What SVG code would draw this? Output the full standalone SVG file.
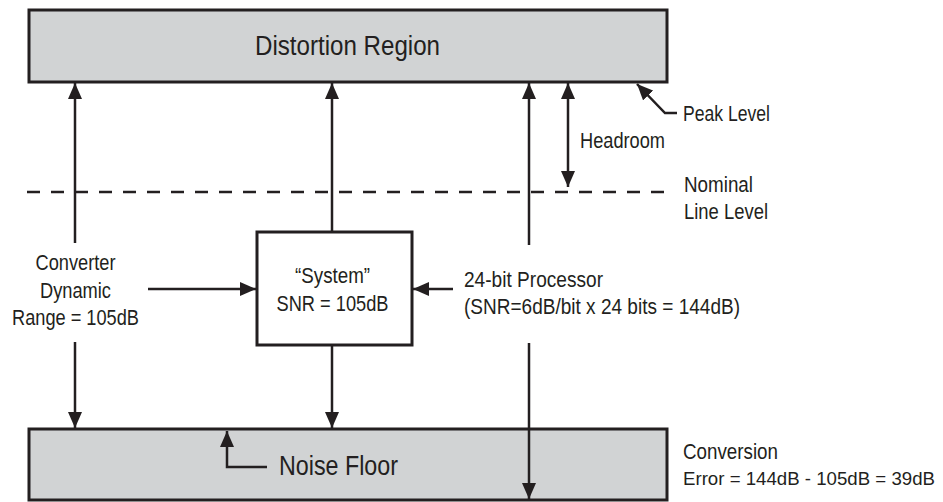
<svg xmlns="http://www.w3.org/2000/svg" width="943" height="502" viewBox="0 0 943 502">
<style>
.region{fill:#d1d3d4;stroke:#231f20;stroke-width:3}
.box{fill:#ffffff;stroke:#231f20;stroke-width:3}
.ln{fill:none;stroke:#231f20;stroke-width:2.5}
.dash{fill:none;stroke:#231f20;stroke-width:2.5;stroke-dasharray:13 11}
.t{font-family:"Liberation Sans",Arial,sans-serif;fill:#231f20}
.big{font-size:27px}
.lbl{font-size:22px}
.sm{font-size:19px}
</style>
<defs>
<marker id="ah" markerWidth="16" markerHeight="14" refX="16" refY="7" orient="auto" markerUnits="userSpaceOnUse" viewBox="0 0 16 14">
<path d="M0,0 L16,7 L0,14 Z" fill="#231f20"/>
</marker>
</defs>
<rect width="943" height="502" fill="#ffffff"/>
<g id="distortion-region">
<rect class="region" x="29" y="10" width="638" height="72"/>
<text class="t big" x="347.5" y="55" text-anchor="middle" textLength="185" lengthAdjust="spacingAndGlyphs">Distortion Region</text>
</g>
<g id="noise-floor">
<rect class="region" x="29" y="429" width="638" height="71"/>
<text class="t big" x="279" y="475" textLength="119" lengthAdjust="spacingAndGlyphs">Noise Floor</text>
</g>
<g id="system">
<rect class="box" x="257" y="232" width="155" height="113"/>
<text class="t lbl" x="332.5" y="283" text-anchor="middle" textLength="75" lengthAdjust="spacingAndGlyphs">“System”</text>
<text class="t lbl" x="332.5" y="311" text-anchor="middle" textLength="112" lengthAdjust="spacingAndGlyphs">SNR = 105dB</text>
</g>
<g id="nominal-line">
<line class="dash" x1="27" y1="192" x2="667" y2="192"/>
</g>
<g id="labels">
<text class="t lbl" x="75.5" y="270" text-anchor="middle" textLength="80" lengthAdjust="spacingAndGlyphs">Converter</text>
<text class="t lbl" x="75.5" y="298" text-anchor="middle" textLength="71" lengthAdjust="spacingAndGlyphs">Dynamic</text>
<text class="t lbl" x="75.5" y="325" text-anchor="middle" textLength="127" lengthAdjust="spacingAndGlyphs">Range = 105dB</text>
<text class="t lbl" x="464" y="287" textLength="139" lengthAdjust="spacingAndGlyphs">24-bit Processor</text>
<text class="t lbl" x="464" y="314" textLength="276" lengthAdjust="spacingAndGlyphs">(SNR=6dB/bit x 24 bits = 144dB)</text>
<text class="t lbl" x="580" y="148" textLength="85" lengthAdjust="spacingAndGlyphs">Headroom</text>
<text class="t lbl" x="683" y="121" textLength="87" lengthAdjust="spacingAndGlyphs">Peak Level</text>
<text class="t lbl" x="684" y="192" textLength="69" lengthAdjust="spacingAndGlyphs">Nominal</text>
<text class="t lbl" x="684" y="219" textLength="84" lengthAdjust="spacingAndGlyphs">Line Level</text>
<text class="t lbl" x="683" y="459" textLength="95" lengthAdjust="spacingAndGlyphs">Conversion</text>
<text class="t sm" x="683" y="485" textLength="252" lengthAdjust="spacingAndGlyphs">Error = 144dB - 105dB = 39dB</text>
</g>
<g id="connectors">
<line class="ln" x1="75" y1="243" x2="75" y2="83" marker-end="url(#ah)"/>
<line class="ln" x1="75" y1="342" x2="75" y2="428" marker-end="url(#ah)"/>
<line class="ln" x1="332" y1="232" x2="332" y2="83" marker-end="url(#ah)"/>
<line class="ln" x1="332" y1="345" x2="332" y2="428" marker-end="url(#ah)"/>
<line class="ln" x1="529" y1="245" x2="529" y2="83" marker-end="url(#ah)"/>
<line class="ln" x1="529" y1="343" x2="529" y2="499" marker-end="url(#ah)"/>
<line class="ln" x1="568" y1="135" x2="568" y2="83" marker-end="url(#ah)"/>
<line class="ln" x1="568" y1="135" x2="568" y2="187" marker-end="url(#ah)"/>
<line class="ln" x1="148" y1="289" x2="256" y2="289" marker-end="url(#ah)"/>
<line class="ln" x1="453" y1="289" x2="413" y2="289" marker-end="url(#ah)"/>
<polyline class="ln" points="677,113 665,113 637,84" marker-end="url(#ah)"/>
<polyline class="ln" points="267,467 227,467 227,431" marker-end="url(#ah)"/>
</g>
</svg>
